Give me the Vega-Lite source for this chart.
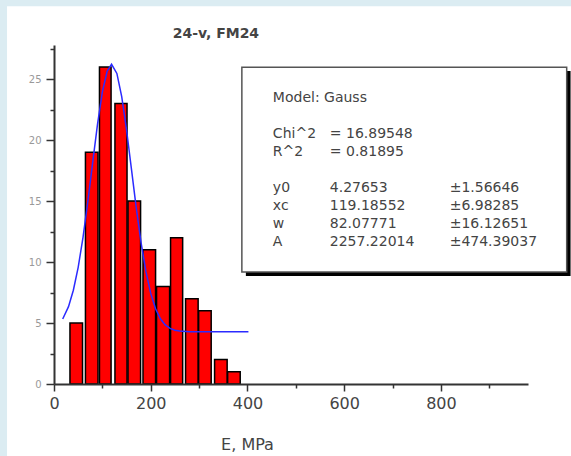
{
  "$schema": "https://vega.github.io/schema/vega-lite/v6.json",
  "width": 474,
  "height": 339,
  "autosize": {"type": "none"},
  "padding": {"left": 54, "top": 45, "right": 43, "bottom": 72},
  "background": "white",
  "config": {"view": {"stroke": null}, "font": "DejaVu Sans"},
  "datasets": {
    "hist": [
      {"start": 33, "end": 59, "count": 5},
      {"start": 65, "end": 91, "count": 19},
      {"start": 94, "end": 118, "count": 26},
      {"start": 126, "end": 151, "count": 23},
      {"start": 153, "end": 179, "count": 15},
      {"start": 184, "end": 210, "count": 11},
      {"start": 212, "end": 239, "count": 8},
      {"start": 241, "end": 266, "count": 12},
      {"start": 272, "end": 298, "count": 7},
      {"start": 299, "end": 325, "count": 6},
      {"start": 332, "end": 358, "count": 2},
      {"start": 359, "end": 385, "count": 1}
    ],
    "fit": [
      {"E": 18, "y": 5.33}, {"E": 30, "y": 6.34}, {"E": 40, "y": 7.69}, {"E": 50, "y": 9.57},
      {"E": 60, "y": 12.03}, {"E": 70, "y": 14.97}, {"E": 80, "y": 18.18}, {"E": 90, "y": 21.31},
      {"E": 100, "y": 23.95}, {"E": 110, "y": 25.67}, {"E": 119, "y": 26.22}, {"E": 130, "y": 25.47},
      {"E": 140, "y": 23.57}, {"E": 150, "y": 20.83}, {"E": 160, "y": 17.66}, {"E": 170, "y": 14.47},
      {"E": 180, "y": 11.6}, {"E": 190, "y": 9.23}, {"E": 200, "y": 7.43}, {"E": 210, "y": 6.17},
      {"E": 220, "y": 5.35}, {"E": 230, "y": 4.85}, {"E": 240, "y": 4.56}, {"E": 250, "y": 4.41},
      {"E": 260, "y": 4.34}, {"E": 280, "y": 4.29}, {"E": 300, "y": 4.28}, {"E": 402, "y": 4.28}
    ]
  },
  "layer": [
    {
      "data": {"name": "hist"},
      "mark": {"type": "rect", "fill": "#ff0000", "stroke": "#000000", "strokeWidth": 1.5},
      "encoding": {
        "x": {"field": "start", "type": "quantitative", "scale": {"domain": [0, 980], "nice": false},
          "axis": {"orient": "bottom", "offset": 0, "zindex": 1, "values": [0, 200, 400, 600, 800], "grid": false, "tickSize": 7, "tickWidth": 1.5, "tickColor": "#333333", "domainColor": "#333333", "domainWidth": 2, "labelFont": "DejaVu Sans", "labelFontSize": 16, "labelColor": "#444444", "labelPadding": 4, "labelFlush": false, "labelOverlap": false, "title": "E, MPa", "titleFont": "DejaVu Sans", "titleFontSize": 16, "titleFontWeight": "normal", "titleColor": "#444444", "titleX": 193, "titleY": 60, "titleBaseline": "middle", "titleAlign": "center"}},
        "x2": {"field": "end"},
        "y": {"field": "count", "type": "quantitative", "scale": {"domain": [0, 27.8], "nice": false},
          "axis": {"orient": "left", "offset": 0, "zindex": 1, "values": [0, 5, 10, 15, 20, 25], "grid": false, "tickSize": 8, "tickWidth": 1.5, "tickColor": "#333333", "domainColor": "#333333", "domainWidth": 2, "labelFont": "DejaVu Sans", "labelFontSize": 10, "labelColor": "#999999", "labelPadding": 5, "labelFlush": false, "labelOverlap": false, "title": null}},
        "y2": {"datum": 0}
      }
    },
    {
      "data": {"name": "fit"},
      "mark": {"type": "line", "color": "#2b2bff", "strokeWidth": 1.5},
      "encoding": {
        "x": {"field": "E", "type": "quantitative", "scale": {"domain": [0, 980], "nice": false},
          "axis": {"orient": "bottom", "offset": 0, "zindex": 1, "values": [100, 300, 500, 700, 900], "grid": false, "labels": false, "domain": false, "tickSize": 4, "tickWidth": 1.5, "tickColor": "#333333", "title": null}},
        "y": {"field": "y", "type": "quantitative", "scale": {"domain": [0, 27.8], "nice": false},
          "axis": {"orient": "left", "offset": 0, "zindex": 1, "values": [2.5, 7.5, 12.5, 17.5, 22.5, 27.5], "grid": false, "labels": false, "domain": false, "tickSize": 4, "tickWidth": 1.5, "tickColor": "#333333", "title": null}}
      }
    },
    {
      "data": {"values": [{}]},
      "mark": {"type": "rect", "fill": "#dbecf2", "clip": false},
      "encoding": {
        "x": {"datum": -130, "type": "quantitative", "axis": null},
        "x2": {"datum": -97.1},
        "y": {"datum": 31.5, "type": "quantitative", "axis": null},
        "y2": {"datum": -20}
      }
    },
    {
      "data": {"values": [{}]},
      "mark": {"type": "rect", "fill": "#dbecf2", "clip": false},
      "encoding": {
        "x": {"datum": -130, "type": "quantitative", "axis": null},
        "x2": {"datum": 1300},
        "y": {"datum": 31.5, "type": "quantitative", "axis": null},
        "y2": {"datum": 30.98}
      }
    },
    {
      "data": {"values": [{}]},
      "mark": {"type": "text", "align": "center", "baseline": "alphabetic", "font": "DejaVu Sans", "fontSize": 14, "fontWeight": "bold", "color": "#444444", "clip": false},
      "encoding": {
        "x": {"datum": 334.7, "type": "quantitative", "axis": null},
        "y": {"datum": 28.36, "type": "quantitative", "axis": null},
        "text": {"value": "24-v, FM24"}
      }
    },
    {
      "data": {"values": [{}]},
      "mark": {"type": "rect", "fill": "#000000", "clip": false},
      "encoding": {
        "x": {"datum": 396.7, "type": "quantitative", "axis": null},
        "x2": {"datum": 1068},
        "y": {"datum": 25.66, "type": "quantitative", "axis": null},
        "y2": {"datum": 8.85}
      }
    },
    {
      "data": {"values": [{}]},
      "mark": {"type": "rect", "fill": "white", "stroke": "#555555", "strokeWidth": 1.5, "clip": false},
      "encoding": {
        "x": {"datum": 388.4, "type": "quantitative", "axis": null},
        "x2": {"datum": 1060},
        "y": {"datum": 25.98, "type": "quantitative", "axis": null},
        "y2": {"datum": 9.18}
      }
    },
    {
      "data": {"values": [{}]},
      "mark": {"type": "text", "align": "left", "baseline": "alphabetic", "font": "DejaVu Sans", "fontSize": 14, "color": "#444444", "clip": false},
      "encoding": {
        "x": {"datum": 452.5, "type": "quantitative", "axis": null},
        "y": {"datum": 23.11, "type": "quantitative", "axis": null},
        "text": {"value": "Model: Gauss"}
      }
    },
    {
      "data": {"values": [{}]},
      "mark": {"type": "text", "align": "left", "baseline": "alphabetic", "lineBreak": "\n", "lineHeight": 18, "font": "DejaVu Sans", "fontSize": 14, "color": "#444444", "clip": false},
      "encoding": {
        "x": {"datum": 452.5, "type": "quantitative", "axis": null},
        "y": {"datum": 20.16, "type": "quantitative", "axis": null},
        "text": {"value": "Chi^2\nR^2"}
      }
    },
    {
      "data": {"values": [{}]},
      "mark": {"type": "text", "align": "left", "baseline": "alphabetic", "lineBreak": "\n", "lineHeight": 18, "font": "DejaVu Sans", "fontSize": 14, "color": "#444444", "clip": false},
      "encoding": {
        "x": {"datum": 570.2, "type": "quantitative", "axis": null},
        "y": {"datum": 20.16, "type": "quantitative", "axis": null},
        "text": {"value": "= 16.89548\n= 0.81895"}
      }
    },
    {
      "data": {"values": [{}]},
      "mark": {"type": "text", "align": "left", "baseline": "alphabetic", "lineBreak": "\n", "lineHeight": 18, "font": "DejaVu Sans", "fontSize": 14, "color": "#444444", "clip": false},
      "encoding": {
        "x": {"datum": 452.5, "type": "quantitative", "axis": null},
        "y": {"datum": 15.74, "type": "quantitative", "axis": null},
        "text": {"value": "y0\nxc\nw\nA"}
      }
    },
    {
      "data": {"values": [{}]},
      "mark": {"type": "text", "align": "left", "baseline": "alphabetic", "lineBreak": "\n", "lineHeight": 18, "font": "DejaVu Sans", "fontSize": 14, "color": "#444444", "clip": false},
      "encoding": {
        "x": {"datum": 570.2, "type": "quantitative", "axis": null},
        "y": {"datum": 15.74, "type": "quantitative", "axis": null},
        "text": {"value": "4.27653\n119.18552\n82.07771\n2257.22014"}
      }
    },
    {
      "data": {"values": [{}]},
      "mark": {"type": "text", "align": "left", "baseline": "alphabetic", "lineBreak": "\n", "lineHeight": 18, "font": "DejaVu Sans", "fontSize": 14, "color": "#444444", "clip": false},
      "encoding": {
        "x": {"datum": 818, "type": "quantitative", "axis": null},
        "y": {"datum": 15.74, "type": "quantitative", "axis": null},
        "text": {"value": "±1.56646\n±6.98285\n±16.12651\n±474.39037"}
      }
    }
  ],
  "resolve": {"axis": {"x": "independent", "y": "independent"}}
}
